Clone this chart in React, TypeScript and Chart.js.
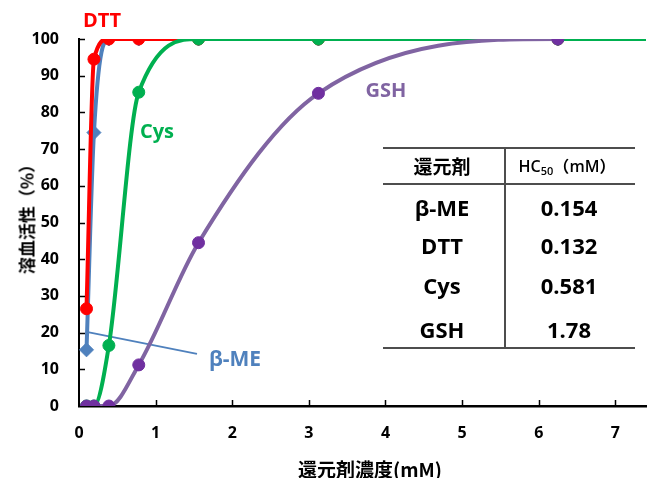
import React, { useEffect, useRef } from 'react';
import { Chart, registerables } from 'chart.js';

Chart.register(...registerables);

// ---- data ----
const concentrations = [0.098, 0.195, 0.39, 0.78, 1.56, 3.125, 6.25];
const xAxisEnd = 7.4;
const bmeValues = [15.3, 74.5, 100, 100, 100, 100, 100];
const dttValues = [26.5, 94.5, 100, 100, 100, 100, 100];
const cysValues = [0, 0, 16.5, 85.5, 100, 100, 100];
const gshValues = [0, 0, 0, 11.2, 44.5, 85.2, 100];
const curveEndValue = 100; // fitted curves level off at 100 up to the axis end
const tableHeader = ['還元剤', 'HC50（mM）'];
const tableNames = ['β-ME', 'DTT', 'Cys', 'GSH'];
const tableHC50 = ['0.154', '0.132', '0.581', '1.78'];
// β-ME call-out line, in data units
const bmeCalloutFrom = { x: 0.098, y: 20.2 };
const bmeCalloutTo = { x: 1.54, y: 14.2 };

const RED = '#FF0000';
const BLUE = '#4F81BD';
const GREEN = '#00B050';
const PURPLE_LINE = '#8064A2';
const PURPLE_MARK = '#7030A0';

function pts(vals: number[], extend: boolean) {
  const p = concentrations.map((c, i) => ({ x: c, y: vals[i] }));
  if (extend) p.push({ x: xAxisEnd, y: curveEndValue });
  return p;
}
function radii(n: number, extend: boolean, r: number) {
  const a = new Array(n).fill(r);
  if (extend) a.push(0);
  return a;
}

const innerTicks = {
  id: 'innerTicks',
  beforeDatasetsDraw(chart: any) {
    const { ctx, scales } = chart;
    const x = scales.x, y = scales.y;
    ctx.save();
    ctx.strokeStyle = BLUE;
    ctx.lineWidth = 2;
    ctx.beginPath();
    ctx.moveTo(x.getPixelForValue(bmeCalloutFrom.x), y.getPixelForValue(bmeCalloutFrom.y));
    ctx.lineTo(x.getPixelForValue(bmeCalloutTo.x), y.getPixelForValue(bmeCalloutTo.y));
    ctx.stroke();
    ctx.restore();
  },
  afterDraw(chart: any) {
    const { ctx, chartArea, scales } = chart;
    const x = scales.x, y = scales.y;
    ctx.save();
    ctx.strokeStyle = '#000';
    ctx.lineWidth = 1.5;
    ctx.beginPath();
    x.ticks.forEach((t: any) => {
      const px = Math.round(x.getPixelForValue(t.value)) + 0.5;
      if (px <= chartArea.left + 2) return;
      ctx.moveTo(px, chartArea.bottom);
      ctx.lineTo(px, chartArea.bottom - 6);
    });
    y.ticks.forEach((t: any) => {
      const py = Math.round(y.getPixelForValue(t.value)) + 0.5;
      if (py >= chartArea.bottom - 2) return;
      ctx.moveTo(chartArea.left, py);
      ctx.lineTo(chartArea.left + 6, py);
    });
    ctx.stroke();
    ctx.restore();
  },
};

function Label(props: { cx: number; cy: number; color?: string; size: number; font?: string; weight?: any; children: any }) {
  return (
    <div
      style={{
        position: 'absolute',
        left: props.cx,
        top: props.cy,
        transform: 'translate(-50%, -50%)',
        color: props.color || '#000',
        fontSize: props.size,
        fontFamily: props.font || '"Open Sans", sans-serif',
        fontWeight: props.weight ?? 700,
        lineHeight: 1,
        whiteSpace: 'nowrap',
      }}
    >
      {props.children}
    </div>
  );
}

export default function App() {
  const ref = useRef<HTMLCanvasElement>(null);

  useEffect(() => {
    document.body.style.margin = '0';
    const canvas = ref.current!;
    const ds = (label: string, vals: number[], extend: boolean, line: string, mark: string, style: any, r: number, order: number, hideTail = false) => ({
      label,
      data: pts(vals, extend),
      showLine: true,
      borderColor: line,
      backgroundColor: mark,
      pointBackgroundColor: mark,
      pointBorderColor: mark,
      pointBorderWidth: 1,
      pointStyle: style,
      pointRadius: radii(vals.length, extend, r),
      borderWidth: 4,
      cubicInterpolationMode: 'monotone',
      segment: hideTail
        ? { borderColor: (c: any) => (c.p1DataIndex === vals.length ? 'rgba(0,0,0,0)' : undefined) }
        : undefined,
      order,
    });
    const chart = new Chart(canvas, {
      type: 'scatter',
      data: {
        datasets: [
          ds('GSH', gshValues, true, PURPLE_LINE, PURPLE_MARK, 'circle', 6, 1, true),
          ds('Cys', cysValues, true, GREEN, GREEN, 'circle', 6, 2),
          ds('DTT', dttValues, true, RED, RED, 'circle', 6, 3),
          ds('β-ME', bmeValues, true, BLUE, BLUE, 'rectRot', 7, 4),
        ] as any,
      },
      options: {
        animation: false,
        responsive: false,
        maintainAspectRatio: false,
        layout: { padding: { top: 39, left: 0, right: 0, bottom: 0 } },
        plugins: { legend: { display: false }, tooltip: { enabled: false } },
        scales: {
          x: {
            type: 'linear',
            min: 0,
            max: xAxisEnd,
            afterFit: (s: any) => { s.height = 72; },
            ticks: {
              stepSize: 1,
              includeBounds: false,
              color: '#000',
              padding: 18,
              font: { family: '"Open Sans", sans-serif', size: 16, weight: 'bold' },
            },
            grid: { drawOnChartArea: false, drawTicks: false },
            border: { color: '#000', width: 2.5 },
          },
          y: {
            type: 'linear',
            min: 0,
            max: 100,
            afterFit: (s: any) => { s.width = 79; },
            ticks: {
              stepSize: 10,
              color: '#000',
              padding: 20,
              font: { family: '"Open Sans", sans-serif', size: 16, weight: 'bold' },
            },
            grid: { drawOnChartArea: false, drawTicks: false },
            border: { color: '#000', width: 2 },
          },
        },
      } as any,
      plugins: [innerTicks],
    });
    return () => chart.destroy();
  }, []);

  const rowY = [207, 245, 285, 329];
  const lineColor = '#4d4d4d';
  const hLine = (top: number) => (
    <div style={{ position: 'absolute', left: 383, top: top - 1, width: 252, height: 2, background: lineColor }} />
  );

  return (
    <div style={{ position: 'fixed', left: 0, top: 0, width: 654, height: 478, background: '#fff', overflow: 'hidden' }}>
      <canvas ref={ref} width={654} height={478} style={{ position: 'absolute', left: 0, top: 0, width: 654, height: 478 }} />

      {/* axis titles */}
      <div
        style={{
          position: 'absolute',
          left: 26,
          top: 215,
          transform: 'translate(-50%, -50%) rotate(-90deg)',
          fontFamily: '"Noto Sans CJK JP", sans-serif',
          fontWeight: 700,
          fontSize: 17,
          lineHeight: 1,
          whiteSpace: 'nowrap',
        }}
      >
        溶血活性（%）
      </div>
      <Label cx={370} cy={468} size={19} font={'"Noto Sans CJK JP", sans-serif'}>還元剤濃度(mM)</Label>

      {/* series labels */}
      <Label cx={102} cy={20} size={20} color={RED}>DTT</Label>
      <Label cx={157} cy={131} size={20} color={GREEN}>Cys</Label>
      <Label cx={386} cy={90} size={20} color={PURPLE_LINE}>GSH</Label>
      <Label cx={235} cy={358} size={21} color={BLUE}>β-ME</Label>

      {/* table */}
      {hLine(148)}
      {hLine(184)}
      {hLine(348)}
      <div style={{ position: 'absolute', left: 504, top: 147, width: 2, height: 202, background: lineColor }} />
      <Label cx={442} cy={165} size={19} font={'"Noto Sans CJK JP", sans-serif'}>{tableHeader[0]}</Label>
      <Label cx={567} cy={165} size={16} weight={600}>
        HC<sub style={{ fontSize: 11, verticalAlign: 'baseline', position: 'relative', top: 3 }}>50</sub>
        <span style={{ fontFamily: '"Noto Sans CJK JP", sans-serif' }}>（</span>mM<span style={{ fontFamily: '"Noto Sans CJK JP", sans-serif' }}>）</span>
      </Label>
      {tableNames.map((n, i) => (
        <Label key={'n' + i} cx={442} cy={rowY[i]} size={22}>{n}</Label>
      ))}
      {tableHC50.map((v, i) => (
        <Label key={'v' + i} cx={569} cy={rowY[i]} size={22}>{v}</Label>
      ))}
    </div>
  );
}
